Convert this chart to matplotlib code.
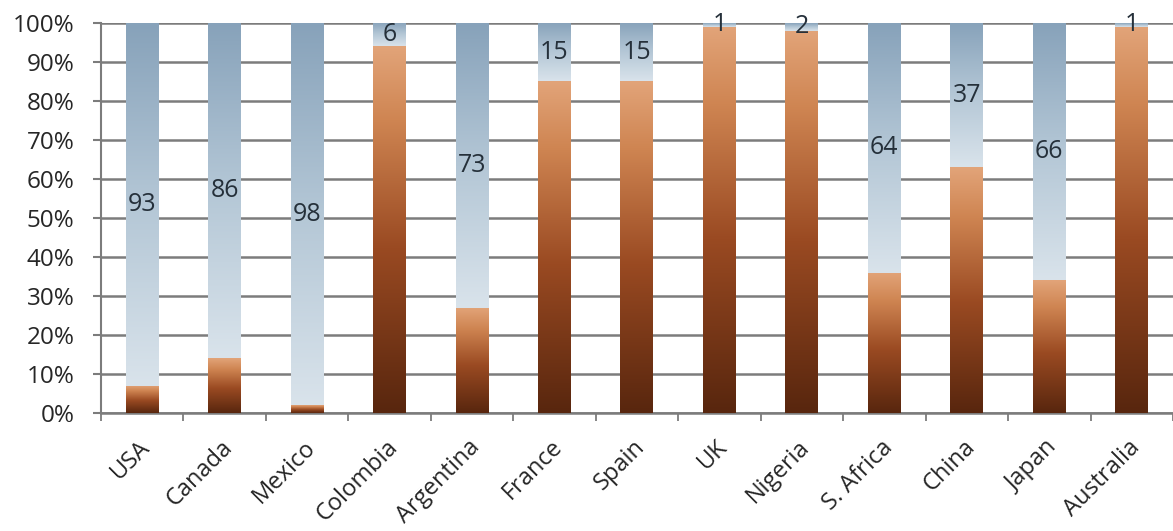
import numpy as np
import matplotlib
matplotlib.use("Agg")
import matplotlib.pyplot as plt
import matplotlib.transforms as mtransforms
from matplotlib.colors import LinearSegmentedColormap
from matplotlib.ticker import PercentFormatter

countries = ["USA", "Canada", "Mexico", "Colombia", "Argentina", "France", "Spain",
             "UK", "Nigeria", "S. Africa", "China", "Japan", "Australia"]
top_share = [93, 86, 98, 6, 73, 15, 15, 1, 2, 64, 37, 66, 1]
bottom_share = [100 - v for v in top_share]

plt.rcParams["font.family"] = ["Open Sans", "DejaVu Sans"]

fig = plt.figure(figsize=(11.73, 5.31), dpi=100)
ax = fig.add_axes([0.086, 0.222, 0.914, 0.735])

x = np.arange(len(countries))
width = 0.4

brown = LinearSegmentedColormap.from_list(
    "brown", [(0.0, "#58260e"), (0.45, "#9a4a22"), (0.8, "#cf8552"), (1.0, "#e2a479")])
steel = LinearSegmentedColormap.from_list(
    "steel", [(0.0, "#d9e3eb"), (0.5, "#b4c7d6"), (1.0, "#87a2ba")])

bars_bottom = ax.bar(x, bottom_share, width, color="none", zorder=3)
bars_top = ax.bar(x, top_share, width, bottom=bottom_share, color="none", zorder=3)

grad = np.linspace(0, 1, 256).reshape(-1, 1)
for bars, cmap in ((bars_bottom, brown), (bars_top, steel)):
    for b in bars:
        if b.get_height() <= 0:
            continue
        x0, y0 = b.get_x(), b.get_y()
        x1, y1 = x0 + b.get_width(), y0 + b.get_height()
        im = ax.imshow(grad, cmap=cmap, origin="lower", aspect="auto",
                       extent=[x0, x1, y0, y1], zorder=3, interpolation="bicubic")
        im.set_clip_path(b)

for xi, lo, v in zip(x, bottom_share, top_share):
    ax.text(xi, lo + v / 2, f"{v}", ha="center", va="center", fontsize=18,
            color="#25303a", zorder=5)

ax.set_xlim(-0.5, len(countries) - 0.5)
ax.set_ylim(0, 100)
ax.set_yticks(np.arange(0, 101, 10))
ax.yaxis.set_major_formatter(PercentFormatter(decimals=0))
ax.grid(axis="y", color="#7c7c7c", linewidth=1.8, zorder=1)
ax.set_axisbelow(True)

ax.set_xticks(x)
ax.set_xticklabels(countries, rotation=45, ha="right", rotation_mode="anchor",
                   fontsize=17, color="#262626")
ax.tick_params(axis="x", length=0, pad=16)
shift = mtransforms.ScaledTranslation(-4 / 100, 0, fig.dpi_scale_trans)
for lab in ax.get_xticklabels():
    lab.set_transform(lab.get_transform() + shift)
ax.set_xticks(np.arange(-0.5, len(countries), 1), minor=True)
ax.tick_params(axis="x", which="minor", length=6, width=1.3, color="#7c7c7c")
ax.tick_params(axis="y", length=6, width=1.5, color="#7c7c7c", labelsize=17.5,
               labelcolor="#262626", pad=13)

for side in ("top", "right"):
    ax.spines[side].set_visible(False)
ax.spines["left"].set_color("#7c7c7c")
ax.spines["left"].set_linewidth(1.5)
ax.spines["bottom"].set_color("#7c7c7c")
ax.spines["bottom"].set_linewidth(1.8)

fig.savefig("out.png", dpi=100)
